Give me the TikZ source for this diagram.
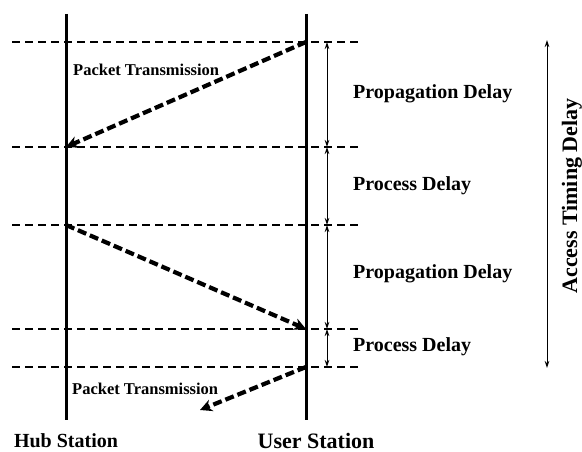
\documentclass[tikz,border=0pt]{standalone}
\usepackage{fontspec}
\setmainfont{Liberation Serif}
\usetikzlibrary{arrows.meta}
\begin{document}
\begin{tikzpicture}[x=1pt,y=-1pt,
  station/.style={line width=3pt},
  level/.style={line width=1.7pt, dash pattern=on 7.5pt off 5.5pt},
  packet/.style={line width=4.2pt, dash pattern=on 9pt off 4pt, -{Stealth[length=12pt,width=12pt]}},
  dim/.style={line width=1pt, {Stealth[length=7pt,width=4.5pt]}-{Stealth[length=7pt,width=4.5pt]}},
  lbl/.style={font=\bfseries\fontsize{20}{22}\selectfont, anchor=west, inner sep=0pt},
  small/.style={font=\bfseries\fontsize{16.5}{18}\selectfont, anchor=west, inner sep=0pt}]
\useasboundingbox (0,0) rectangle (582,452);
% stations
\coordinate (hubtop) at (66,14);
\coordinate (hubbot) at (66,420);
\coordinate (usrtop) at (306,14);
\coordinate (usrbot) at (306,420);
\draw[station] (hubtop) -- (hubbot);
\draw[station] (usrtop) -- (usrbot);
% levels
\foreach \n/\y in {a/42,b/147,c/225,d/329,e/367}{
  \coordinate (L\n) at (12,\y);
  \coordinate (R\n) at (358,\y);
  \coordinate (H\n) at (66,\y);
  \coordinate (U\n) at (306,\y);
  \coordinate (D\n) at (327,\y);
  \draw[level] (L\n) -- (R\n);
}
% packets
\coordinate (pend) at (200,410);
\draw[packet] (Ua) -- (Hb);
\draw[packet] (Hc) -- (Ud);
\draw[packet] (Ue) -- (pend);
% dimension arrows
\draw[dim] (Da) -- (Db);
\draw[dim] (Db) -- (Dc);
\draw[dim] (Dc) -- (Dd);
\draw[dim] (Dd) -- (De);
\coordinate (ata) at (547,40);
\coordinate (atb) at (547,368);
\draw[dim] (ata) -- (atb);
% labels
\node[small] (pt1) at (73,70) {Packet Transmission};
\node[small] (pt2) at (72,389) {Packet Transmission};
\node[lbl] (pd1) at (353,94) {Propagation Delay};
\node[lbl] (pr1) at (353,186) {Process Delay};
\node[lbl] (pd2) at (353,274) {Propagation Delay};
\node[lbl] (pr2) at (353,347) {Process Delay};
\node[lbl, anchor=center, rotate=90, font=\bfseries\fontsize{22}{24}\selectfont] (atd) at (572,196) {Access Timing Delay};
\node[lbl, anchor=center] (hub) at (66,441) {Hub Station};
\node[lbl, anchor=center, font=\bfseries\fontsize{22}{24}\selectfont] (usr) at (316,441) {User Station};
\end{tikzpicture}
\end{document}
